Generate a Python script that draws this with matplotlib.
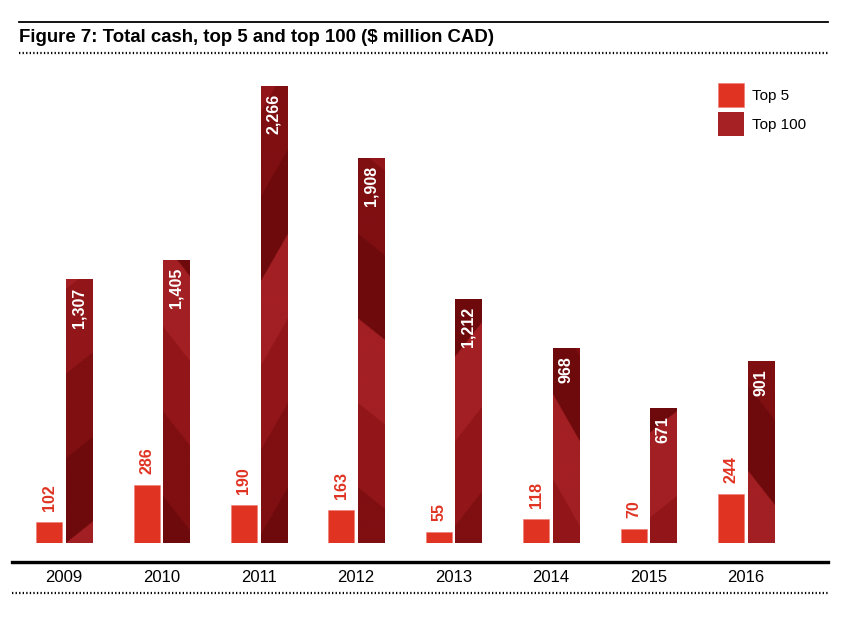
import numpy as np
import matplotlib.pyplot as plt
import matplotlib.transforms as mtransforms
from matplotlib.colors import LinearSegmentedColormap
from matplotlib.lines import Line2D

# 数据
years = ['2009', '2010', '2011', '2012', '2013', '2014', '2015', '2016']
top5 = [102, 286, 190, 163, 55, 118, 70, 244]
top100 = [1307, 1405, 2266, 1908, 1212, 968, 671, 901]

red5 = '#e03322'
red100 = '#a52124'
plt.rcParams['font.family'] = ['Liberation Sans', 'DejaVu Sans']

fig = plt.figure(figsize=(8.54, 6.26), dpi=100)
# 坐标轴: 底部在 y=543px, 每单位 ~0.2017px
ax = fig.add_axes([14 / 854, 1 - 543 / 626, (828 - 14) / 854, 483 / 626])
ax.axis('off')

x = np.arange(len(years))
w = 0.267
off = 0.1525
b5 = ax.bar(x - off, top5, w, color=red5, label='Top 5', edgecolor='#ee7a70', linewidth=0.4)
b100 = ax.bar(x + off, top100, w, color=red100, label='Top 100', linewidth=0)

# 给 top 100 的柱子加一点块状纹理
cmap = LinearSegmentedColormap.from_list('facet', ['#6e0a0c', '#7f0f11', '#921619', '#a21f23'])
gy, gx = np.mgrid[0:1:400j, 0:1:60j]
for i, bar in enumerate(b100):
    h = bar.get_height()
    yy = gy * h / 420.0
    z = (np.floor(yy + (0.25 + 0.15 * (i % 3)) * gx * (1 if i % 2 else -1) + i * 0.45) % 4) / 3.0
    im = ax.imshow(z, cmap=cmap, vmin=0, vmax=1, origin='lower', aspect='auto',
                   extent=[bar.get_x(), bar.get_x() + bar.get_width(), 0, h],
                   interpolation='bilinear', zorder=bar.get_zorder() + 0.1)
    im.set_clip_path(bar)

ax.set_xlim(-0.513, 7.844)
ax.set_ylim(0, 2395)

# 数值标签
for i in range(len(years)):
    ax.annotate(f'{top5[i]:,}', (x[i] - off, top5[i]), xytext=(0, 11),
                textcoords='offset pixels', rotation=90, ha='center', va='bottom',
                color=red5, fontsize=11.5, fontweight='bold')
    ax.annotate(f'{top100[i]:,}', (x[i] + off, top100[i]), xytext=(0, -8),
                textcoords='offset pixels', rotation=90, ha='center', va='top',
                color='white', fontsize=11.5, fontweight='bold', zorder=5)

# 年份
trans = mtransforms.blended_transform_factory(ax.transData, fig.transFigure)
for i, yr in enumerate(years):
    ax.text(x[i], 1 - 578 / 626, yr, transform=trans, ha='center', va='center',
            fontsize=12, clip_on=False)

# 图例
ax.legend(handles=[b5, b100], loc='upper left', bbox_to_anchor=(718 / 854, 1 - 83 / 626),
          bbox_transform=fig.transFigure, frameon=False, fontsize=11,
          handlelength=1.7, handleheight=2.04, labelspacing=0.33,
          handletextpad=0.52, borderpad=0, borderaxespad=0)

# 标题和装饰线
fig.text(19 / 854, 1 - 37 / 626, 'Figure 7: Total cash, top 5 and top 100 (\\$ million CAD)',
         ha='left', va='center', fontsize=13.4, fontweight='bold')
fig.add_artist(Line2D([19 / 854, 828 / 854], [1 - 22 / 626] * 2, color='black', lw=1.3))
fig.add_artist(Line2D([19 / 854, 828 / 854], [1 - 53 / 626] * 2, color='black', lw=1.6,
                      linestyle=(0, (0.6, 1.0))))
fig.add_artist(Line2D([12 / 854, 828 / 854], [1 - 562 / 626] * 2, color='black', lw=2.4))
fig.add_artist(Line2D([12 / 854, 828 / 854], [1 - 564 / 626] * 2, color='#c8c8c8', lw=0.6))
fig.add_artist(Line2D([12 / 854, 828 / 854], [1 - 593 / 626] * 2, color='black', lw=1.6,
                      linestyle=(0, (0.6, 1.0))))

fig.savefig('out.png', dpi=100)
